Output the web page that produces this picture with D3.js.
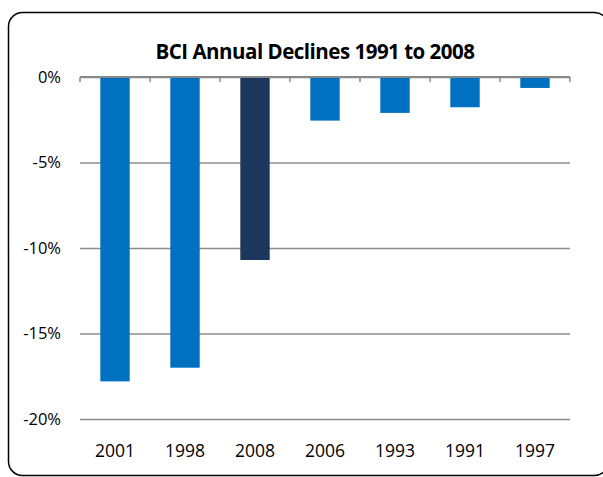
<!DOCTYPE html>
<html>
<head>
<meta charset="utf-8">
<script src="https://cdn.jsdelivr.net/npm/d3@7"></script>
<style>
  body { margin: 0; background: #fff; }
  svg text { font-family: 'Open Sans', 'Liberation Sans', sans-serif; fill: #000; }
</style>
</head>
<body>
<div id="chart"></div>
<script>
const years = ['2001', '1998', '2008', '2006', '1993', '1991', '1997']
const declines = [-17.8, -17.0, -10.7, -2.55, -2.1, -1.77, -0.64]
const yTicks = [0, -5, -10, -15, -20]
const highlightYear = '2008'

const WIDTH = 603
const HEIGHT = 477

const svg = d3.select('#chart')
  .append('svg')
  .attr('width', WIDTH)
  .attr('height', HEIGHT)

// chart frame
svg.append('rect')
  .attr('x', 8.5)
  .attr('y', 12.5)
  .attr('width', 600)
  .attr('height', 463)
  .attr('rx', 14)
  .attr('fill', '#fff')
  .attr('stroke', '#000')
  .attr('stroke-width', 1.5)

const plot = {left: 80, right: 570, top: 77, bottom: 419}

const x = d3.scaleBand()
  .domain(years)
  .range([plot.left, plot.right])
  .paddingInner(0.58)
  .paddingOuter(0.29)

const y = d3.scaleLinear()
  .domain([0, -20])
  .range([plot.top, plot.bottom])

// horizontal gridlines
svg.append('g')
  .attr('class', 'grid')
  .attr('transform', 'translate(' + plot.left + ',0)')
  .call(d3.axisLeft(y)
    .tickValues(yTicks)
    .tickSize(-(plot.right - plot.left))
    .tickFormat('')
  )
  .call(g => g.select('.domain').remove())
  .call(g => g.selectAll('line').attr('stroke', '#8c8c8c').attr('stroke-width', 1.5))

// y labels
svg.append('g')
  .attr('transform', 'translate(' + plot.left + ',0)')
  .call(d3.axisLeft(y)
    .tickValues(yTicks)
    .tickSize(0)
    .tickPadding(19)
    .tickFormat(d => d + '%')
  )
  .call(g => g.select('.domain').remove())
  .call(g => g.selectAll('text').style('font-size', '16.5px'))

// bars
svg.selectAll('rect.bar')
  .data(declines)
  .enter()
  .append('rect')
  .attr('class', 'bar')
  .attr('x', (d, i) => x(years[i]))
  .attr('y', y(0))
  .attr('width', x.bandwidth())
  .attr('height', d => y(d) - y(0))
  .attr('fill', (d, i) => years[i] === highlightYear ? '#1B375E' : '#0070C0')

// zero axis with category ticks
const step = x.step()
const tickPos = d3.range(years.length + 1).map(i => plot.left + i * step)
svg.append('line')
  .attr('x1', plot.left)
  .attr('x2', plot.right)
  .attr('y1', y(0))
  .attr('y2', y(0))
  .attr('stroke', '#888')
  .attr('stroke-width', 2)
svg.selectAll('line.cat-tick')
  .data(tickPos)
  .enter()
  .append('line')
  .attr('class', 'cat-tick')
  .attr('x1', d => d)
  .attr('x2', d => d)
  .attr('y1', y(0))
  .attr('y2', y(0) + 5)
  .attr('stroke', '#888')
  .attr('stroke-width', 1.5)

// x labels
svg.append('g')
  .attr('transform', 'translate(0,' + plot.bottom + ')')
  .call(d3.axisBottom(x).tickSize(0).tickPadding(26))
  .call(g => g.select('.domain').remove())
  .call(g => g.selectAll('text').style('font-size', '17.5px'))

// title
svg.append('text')
  .attr('x', 315)
  .attr('y', 59)
  .attr('text-anchor', 'middle')
  .style('font-size', '20.5px')
  .style('font-weight', 'bold')
  .style('letter-spacing', '-0.5px')
  .text('BCI Annual Declines 1991 to 2008')
</script>
</body>
</html>
